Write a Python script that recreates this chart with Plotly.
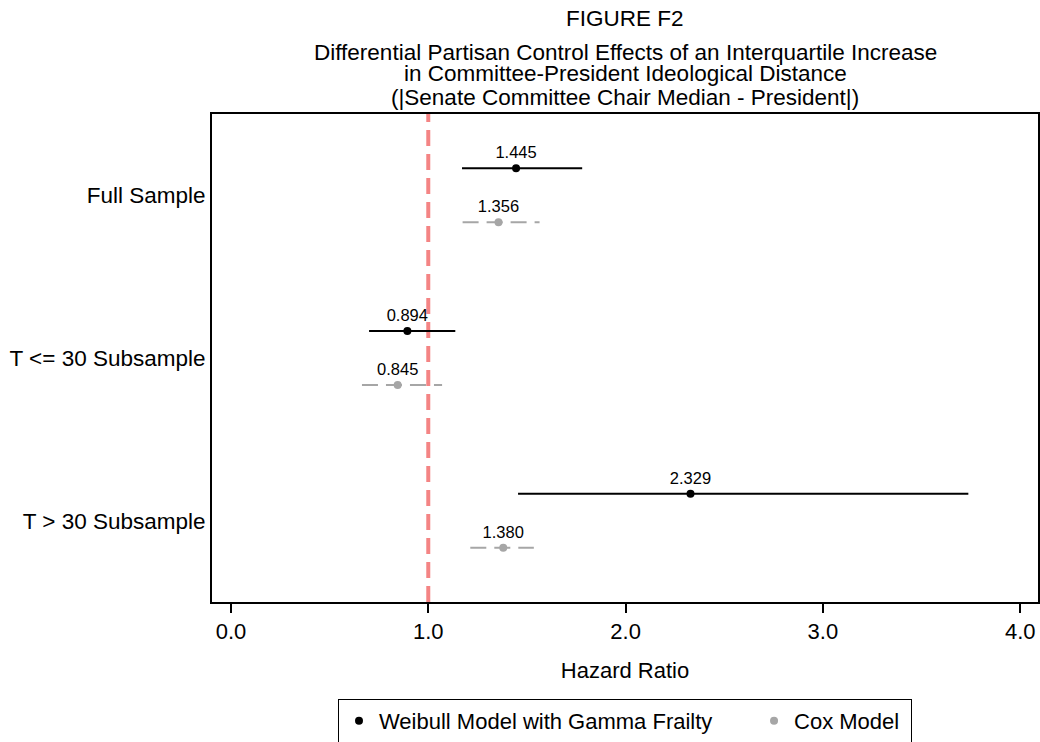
import plotly.graph_objects as go

# Data
groups = ["Full Sample", "T <= 30 Subsample", "T > 30 Subsample"]
group_pos = [3, 2, 1]
weibull_est = [1.445, 0.894, 2.329]
weibull_lo = [1.171, 0.700, 1.455]
weibull_hi = [1.780, 1.137, 3.737]
cox_est = [1.356, 0.845, 1.380]
cox_lo = [1.174, 0.664, 1.213]
cox_hi = [1.564, 1.070, 1.535]
ref_value = 1.0
x_ticks = [0, 1, 2, 3, 4]
title_lines = [
    "FIGURE F2",
    "Differential Partisan Control Effects of an Interquartile Increase",
    "in Committee-President Ideological Distance",
    "(|Senate Committee Chair Median - President|)",
]
legend_names = ["Weibull Model with Gamma Frailty", "Cox Model"]

FONT = "Liberation Sans, Arial, sans-serif"
FS = 22
OFF = 0.166
W_COLOR = "black"
C_COLOR = "#a6a6a6"

FIG_W, FIG_H = 1040, 742

fig = go.Figure()

fig.add_shape(type="line", x0=ref_value, x1=ref_value, xref="x",
              y0=0, y1=1, yref="paper",
              line=dict(color="rgba(240,80,80,0.7)", width=4, dash="16px,8px"),
              layer="below")

def add_series(est, lo, hi, color, dash, offset, name):
    for i, g in enumerate(group_pos):
        y = g + offset
        fig.add_trace(go.Scatter(
            x=[lo[i], hi[i]], y=[y, y], mode="lines",
            line=dict(color=color, width=2, dash=dash),
            showlegend=False, hoverinfo="skip"))
    fig.add_trace(go.Scatter(
        x=est, y=[g + offset for g in group_pos], mode="markers+text",
        marker=dict(color=color, size=8),
        text=[f"{v:.3f}" for v in est], textposition="top center",
        textfont=dict(family=FONT, size=16.5, color="black"),
        showlegend=False, name=name))
    fig.add_trace(go.Scatter(
        x=[None], y=[None], mode="markers",
        marker=dict(color=color, size=8), name=name, showlegend=True))

add_series(weibull_est, weibull_lo, weibull_hi, W_COLOR, "solid", OFF,
           legend_names[0] + "\u00a0" * 6)
add_series(cox_est, cox_lo, cox_hi, C_COLOR, "16px,8px", -OFF,
           legend_names[1] + "\u00a0")

# Plot area in page pixels
plot_top, plot_bot = 114, 602
h = plot_bot - plot_top
title_y = [18, 52, 74, 97]
for txt, py in zip(title_lines, title_y):
    fig.add_annotation(text=txt, x=0.5, xref="paper",
                       y=(plot_bot - py) / h, yref="paper",
                       showarrow=False, yanchor="middle", xanchor="center",
                       font=dict(family=FONT, size=22.5, color="black"))

fig.update_layout(
    width=FIG_W, height=FIG_H,
    margin=dict(l=212, r=2, t=plot_top, b=FIG_H - plot_bot, autoexpand=False),
    plot_bgcolor="white", paper_bgcolor="white",
    font=dict(family=FONT, color="black"),
    hovermode=False,
    xaxis=dict(range=[-0.096, 4.09], tickvals=x_ticks,
               ticktext=[f"{v:.1f}" for v in x_ticks],
               ticks="outside", ticklen=9, tickwidth=2, tickcolor="black",
               showline=True, linecolor="black", linewidth=2, mirror=True,
               showgrid=False, zeroline=False,
               tickfont=dict(family=FONT, size=FS),
               title=dict(text="Hazard Ratio", font=dict(family=FONT, size=FS),
                          standoff=19)),
    yaxis=dict(range=[0.5, 3.5], tickvals=group_pos, ticktext=groups,
               ticks="", showline=True, linecolor="black", linewidth=2,
               mirror=True, showgrid=False, zeroline=False,
               tickfont=dict(family=FONT, size=22.5), ticklabelstandoff=0),
    legend=dict(orientation="h", x=0.5, xanchor="center",
                y=(plot_bot - 699) / h, yanchor="top",
                bordercolor="black", borderwidth=1,
                font=dict(family=FONT, size=FS),
                itemsizing="trace"),
    showlegend=True,
)

fig.write_html(
    "out.html",
    config={"displayModeBar": False},
    post_script="document.body.style.margin='0';document.body.style.overflow='hidden';",
)
